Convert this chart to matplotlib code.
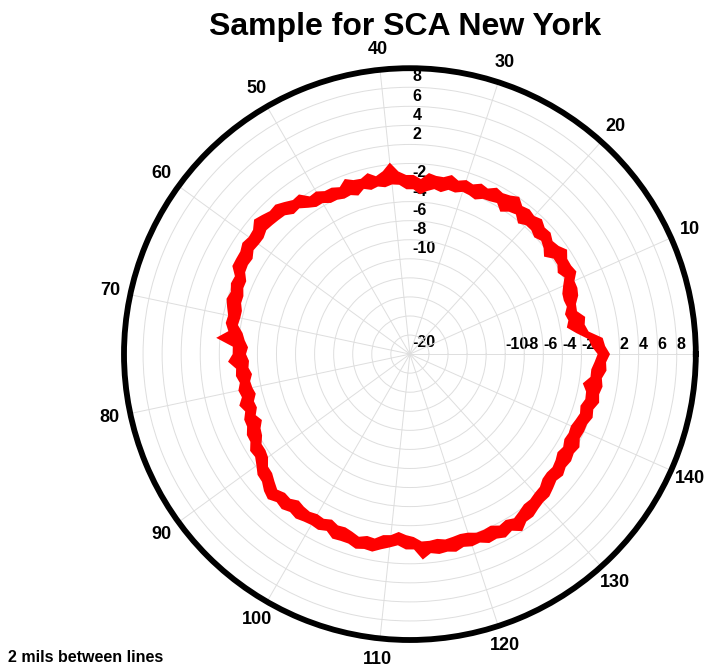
import numpy as np
import matplotlib
matplotlib.use("Agg")
import matplotlib.pyplot as plt

plt.rcParams["font.family"] = ["Liberation Sans", "DejaVu Sans"]
plt.rcParams["font.weight"] = "bold"

# 150 sample positions around the part, labelled every 10
sample_count = 150
angle_labels = [str(v) for v in range(0, 150, 10)]
top_ring_labels = [8, 6, 4, 2, -2, -4, -6, -8, -10]
right_ring_labels = [-10, -8, -6, -4, -2, 2, 4, 6, 8]

# deviation envelope (mils) at each sample position
outer_mils = [
    1.0, 0.5, 0.3, -1.1, -1.4, -1.2, -1.9, -1.8, -1.3, -1.1,
    -1.1, -0.5, -0.7, -0.7, -0.2, -0.7, -0.9, -0.5, -0.6, -0.2,
    -0.5, -0.3, -0.5, 0.1, -0.3, -0.5, -0.3, -0.8, -0.6, -1.0,
    -0.8, -1.1, -0.7, -1.1, -1.1, -0.9, -1.6, -1.2, -1.2, -0.8,
    0.2, -0.6, -1.0, -0.5, -0.9, -0.8, -0.4, -1.0, -0.7, -0.7,
    -0.3, -0.4, 0.4, 0.3, 0.7, 1.1, 1.0, 1.3, 1.6, 1.0,
    0.9, 1.1, 0.8, 0.8, 0.8, 0.1, 0.2, -0.1, 0.1, -0.2,
    -0.5, -0.4, -0.8, 0.4, -1.4, -1.4, -0.9, -1.7, -1.6, -1.9,
    -1.6, -1.8, -1.3, -1.7, -1.3, -1.3, -0.9, -0.9, -0.4, -0.5,
    -0.1, 0.4, 0.5, 1.0, 1.3, 0.9, 1.1, 0.8, 1.0, 0.8,
    0.7, 0.8, 0.5, 1.0, 0.9, 0.9, 1.2, 1.0, 1.1, 0.7,
    0.4, 0.1, 0.5, 0.5, 1.6, 1.0, 1.2, 1.1, 1.3, 1.0,
    1.2, 1.1, 1.5, 1.4, 1.7, 1.4, 2.0, 1.4, 1.4, 1.1,
    0.9, 0.9, 0.6, 0.3, 0.5, 0.2, 0.3, 0.1, 0.3, -0.1,
    0.0, 0.0, 0.3, 0.1, 0.5, 0.3, 0.5, 0.3, 0.7, 0.6,
]
inner_mils = [
    -0.3, -0.9, -1.2, -2.4, -3.3, -3.0, -3.2, -2.8, -2.9, -2.8,
    -2.4, -1.9, -2.3, -1.9, -1.9, -2.6, -2.1, -1.8, -2.1, -1.8,
    -1.8, -2.2, -1.6, -1.8, -2.3, -1.7, -1.9, -2.0, -2.4, -2.2,
    -2.1, -2.4, -2.3, -2.7, -2.5, -2.8, -3.2, -2.7, -2.7, -2.2,
    -2.1, -2.3, -2.1, -2.3, -2.0, -2.5, -2.2, -2.3, -2.1, -2.1,
    -1.7, -1.7, -1.3, -0.8, -0.9, -0.4, -0.3, -0.2, -0.1, -0.4,
    -0.4, -0.3, -0.7, -0.6, -0.7, -1.2, -1.2, -1.5, -1.5, -1.8,
    -1.8, -1.7, -2.3, -2.6, -3.0, -2.8, -3.1, -3.0, -3.3, -3.0,
    -3.1, -3.3, -2.9, -3.0, -2.6, -3.0, -2.5, -2.3, -1.8, -1.8,
    -1.6, -1.0, -0.9, -0.5, -0.1, -0.4, -0.3, -0.7, -0.5, -0.4,
    -0.6, -0.5, -0.8, -0.5, -0.6, -0.4, -0.1, -0.4, -0.3, -0.8,
    -0.9, -1.3, -1.0, -0.8, -0.3, -0.3, -0.4, -0.2, -0.3, -0.4,
    -0.3, 0.0, 0.0, -0.1, 0.3, 0.1, 0.4, 0.1, -0.2, -0.2,
    -0.4, -0.5, -0.9, -1.0, -0.9, -1.1, -1.4, -1.2, -1.5, -1.4,
    -1.5, -1.3, -1.1, -1.3, -1.0, -1.1, -1.6, -0.9, -0.9, -0.6,
]

theta = np.arange(sample_count + 1) * 2 * np.pi / sample_count
outer = np.append(outer_mils, outer_mils[0])
inner = np.append(inner_mils, inner_mils[0])

fig = plt.figure(figsize=(7.06, 6.68), dpi=100)
ax = fig.add_axes([0.1756, 0.0419, 0.810, 0.856], projection="polar")

ax.set_ylim(-20, 10)
ax.set_yticks(np.arange(-18, 10, 2))
ax.set_yticklabels([])
ax.tick_params(axis="y", length=0)

ax.set_xticks(np.deg2rad(np.arange(0, 360, 24)))
ax.set_xticklabels(angle_labels)
ax.set_xticks(np.deg2rad(np.arange(12, 360, 24)), minor=True)
ax.tick_params(axis="x", which="both", direction="in", length=8, width=1.2,
               color="black", pad=8, labelsize=13)
ax.grid(True, which="major", color="#dedede", linewidth=0.7)
ax.spines["polar"].set_linewidth(4.2)

# ring labels along the top and right spokes
for v in top_ring_labels:
    ax.annotate(str(v), xy=(np.pi / 2, v), xytext=(2, 2), textcoords="offset points",
                ha="left", va="bottom", fontsize=11.5, fontweight="bold", zorder=1)
for v in right_ring_labels:
    ax.annotate(str(v), xy=(0, v), xytext=(0, 1.5), textcoords="offset points",
                ha="left", va="bottom", fontsize=11.5, fontweight="bold", zorder=1)
ax.annotate("-20", xy=(0, -20), xytext=(2, 3), textcoords="offset points",
            ha="left", va="bottom", fontsize=11.5, fontweight="bold", zorder=1)

ax.fill(np.concatenate([theta, theta[::-1]]), np.concatenate([outer, inner[::-1]]),
        color="red", linewidth=0, zorder=3)

fig.text(405 / 706, 1 - 27 / 668, "Sample for SCA New York", ha="center", va="center",
         fontsize=23, fontweight="bold")
fig.text(8 / 706, 10 / 668, "2 mils between lines", ha="left", va="center",
         fontsize=11.5, fontweight="bold")

fig.savefig("out.png", dpi=100)
